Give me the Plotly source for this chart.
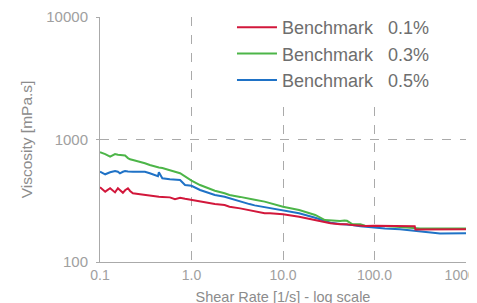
import plotly.graph_objects as go

shear_rate = [0.1, 0.114, 0.129, 0.146, 0.157, 0.165, 0.178, 0.188, 0.202, 0.213, 0.229, 0.274, 0.31, 0.35,
              0.4, 0.43, 0.44, 0.48, 0.58, 0.66, 0.75, 0.85, 1.0, 1.24, 1.6, 1.8, 2.3, 2.6, 3.4, 4.3, 4.9,
              6.3, 7.2, 10, 15, 22.5, 28.7, 33, 42, 47, 50, 57, 70, 79, 100, 130, 190, 240, 275, 280, 315,
              520, 1000]

visc_01 = [408, 375, 400, 370, 400, 385, 367, 385, 400, 380, 364, 357, 352, 346,
           343, 341, 341, 340, 337, 325, 335, 328, 321, 310, 301, 297, 292, 283, 274, 265, 258,
           250, 250, 245, 234, 220, 212, 207, 203, 203, 203, 200, 197, 197, 198, 198, 197, 196, 196, 184, 184,
           184, 185]

visc_03 = [786, 760, 724, 761, 750, 747, 752, 740, 705, 689, 680, 659, 640, 619,
           600, 592, 590, 585, 557, 545, 530, 500, 461, 425, 394, 382, 364, 352, 340, 331, 322,
           311, 302, 283, 266, 242, 220, 218, 216, 218, 217, 204, 203, 198, 198, 197, 193, 190, 189, 188, 188,
           188, 188]

visc_05 = [546, 520, 540, 553, 545, 530, 545, 553, 548, 545, 545, 545, 545, 530,
           513, 502, 540, 482, 473, 470, 467, 425, 419, 387, 362, 352, 341, 331, 312, 297, 290,
           280, 274, 262, 250, 230, 218, 209, 204, 203, 202, 200, 196, 194, 191, 188, 185, 182, 180, 180, 177,
           171, 172]

series_names = ["Benchmark   0.1%", "Benchmark   0.3%", "Benchmark   0.5%"]
series_colors = ["#d2173b", "#4cb548", "#1f72c6"]

x_tickvals = [0.1, 1, 10, 100, 1000]
x_ticktext = ["0.1", "1.0", "10.0", "100.0", "1000.0"]
y_tickvals = [100, 1000, 10000]
y_ticktext = ["100", "1000", "10000"]

series = list(zip(series_names, [visc_01, visc_03, visc_05], series_colors))

fig = go.Figure()
# draw blue first and red last (red on top), keep legend order red, green, blue
for i in reversed(range(len(series))):
    name, vals, col = series[i]
    fig.add_trace(go.Scatter(x=shear_rate, y=vals, mode="lines", name=name, legendgroup=f"g{i}",
                             legendrank=i + 1, line=dict(color=col, width=2)))

font_family = "Liberation Sans, Arial, sans-serif"
fig.update_layout(
    width=477, height=303,
    margin=dict(l=92, r=19, t=9, b=49, autoexpand=False),
    paper_bgcolor="white", plot_bgcolor="white",
    font=dict(family=font_family, color="#a0a0a0", size=14),
    showlegend=True,
    legend=dict(x=0.3606, xanchor="left", y=1.0327, yanchor="top",
                bgcolor="white", font=dict(size=18, color="#6e6e6e"),
                itemwidth=40, tracegroupgap=5, traceorder="normal"),
    xaxis=dict(type="log", range=[-1, 3], tickvals=x_tickvals, ticktext=x_ticktext,
               showgrid=True, gridcolor="#aaaaaa", griddash="dash", gridwidth=1,
               showline=True, linecolor="#aaaaaa", linewidth=1,
               ticks="", automargin=False, ticklabeloverflow="allow",
               zeroline=False, tickfont=dict(size=14, color="#a0a0a0"),
               title=dict(text="Shear Rate [1/s] - log scale", font=dict(size=14.5, color="#8c8c8c"), standoff=10)),
    yaxis=dict(type="log", range=[2, 4], tickvals=y_tickvals, ticktext=y_ticktext,
               showgrid=True, gridcolor="#aaaaaa", griddash="dash", gridwidth=1,
               showline=True, linecolor="#aaaaaa", linewidth=1,
               ticks="outside", ticklen=3, tickcolor="#aaaaaa", automargin=False,
               ticklabelstandoff=5,
               zeroline=False, tickfont=dict(size=15, color="#a0a0a0"),
               title=dict(text="Viscosity [mPa.s]", font=dict(size=15.5, color="#8c8c8c"), standoff=9)),
)

fig.write_html("out.html")
